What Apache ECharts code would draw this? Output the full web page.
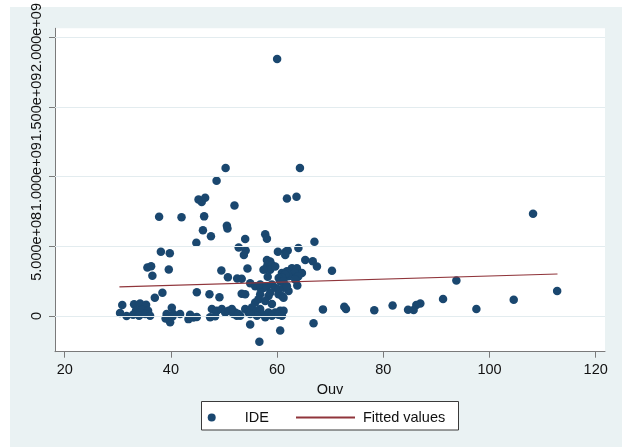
<!DOCTYPE html>
<html><head><meta charset="utf-8">
<script src="https://cdn.jsdelivr.net/npm/echarts@6/dist/echarts.min.js"></script>
<style>
html,body{margin:0;padding:0;background:#fff;}
#bg{position:absolute;left:10px;top:7px;width:612px;height:440px;background:#eaf2f3;}
#chart{position:absolute;left:0;top:0;width:622px;height:447px;}
</style></head><body>
<div id="bg"></div><div id="chart"></div>
<script>
// Ouv (x) and IDE (y), paired by index
const ouv = [60.0,50.3,64.3,48.6,45.2,45.8,46.45,61.85,63.65,51.97,
108.2,37.78,42.0,46.26,50.54,50.65,46.03,47.54,44.79,57.76,
58.08,53.99,67.03,52.76,54.08,53.74,64.01,60.15,61.62,62.0,
61.53,38.11,39.79,35.57,36.27,36.51,39.6,65.3,66.71,67.5,
58.08,58.7,58.19,59.02,57.76,58.7,59.64,49.5,54.42,57.44,
62.79,63.73,64.67,60.9,61.85,63.28,62.15,61.53,60.9,63.73,
64.0,70.33,50.73,52.48,53.33,58.23,60.3,60.58,63.41,61.21,
63.8,93.76,54.93,55.87,56.81,57.44,56.81,58.08,59.02,59.64,
60.26,61.21,62.15,61.85,112.74,38.4,36.97,44.88,47.26,49.14,
53.33,53.99,56.81,58.38,58.7,60.26,60.9,61.21,91.25,104.56,
55.87,56.49,57.76,59.02,55.25,53.99,54.61,56.19,56.81,57.13,
58.38,59.64,60.58,61.21,53.05,52.11,57.76,59.02,60.26,60.9,
81.75,86.97,86.22,84.66,85.71,78.3,97.53,72.65,72.97,68.63,
66.86,60.58,54.93,56.66,30.84,30.42,31.65,33.06,34.19,35.33,
33.44,34.57,35.7,32.87,34.0,35.14,36.08,40.17,39.19,40.47,
39.85,39.0,40.29,41.73,43.62,44.24,44.88,43.3,47.71,48.65,
47.39,48.33,49.59,50.22,50.84,51.78,52.42,51.48,52.72,56.19,
54.93];
const ide = [18.45e8,10.63e8,10.63e8,9.71e8,8.37e8,8.18e8,8.49e8,8.44e8,8.56e8,7.93e8,
7.33e8,7.13e8,7.08e8,7.15e8,6.48e8,6.28e8,6.15e8,5.73e8,5.26e8,5.86e8,
5.55e8,5.53e8,5.32e8,4.91e8,4.70e8,4.38e8,4.87e8,4.61e8,4.61e8,4.70e8,
4.38e8,4.61e8,4.50e8,3.48e8,3.57e8,2.88e8,3.33e8,4.02e8,3.93e8,3.55e8,
4.02e8,3.90e8,3.67e8,3.66e8,3.37e8,3.32e8,3.55e8,3.27e8,3.41e8,3.32e8,
3.43e8,3.43e8,3.08e8,3.08e8,3.20e8,3.08e8,2.85e8,2.97e8,2.77e8,2.77e8,
2.85e8,3.25e8,2.77e8,2.68e8,2.67e8,2.81e8,2.73e8,2.49e8,2.61e8,2.49e8,
2.18e8,2.54e8,2.35e8,2.14e8,2.02e8,2.00e8,2.26e8,2.14e8,2.26e8,2.02e8,
1.91e8,2.02e8,1.79e8,2.14e8,1.79e8,1.66e8,1.31e8,1.70e8,1.55e8,1.34e8,
1.60e8,1.55e8,1.55e8,1.43e8,1.67e8,1.55e8,1.43e8,1.31e8,1.22e8,1.17e8,
0.96e8,1.20e8,1.08e8,0.85e8,0.61e8,0.49e8,0.25e8,0.37e8,0.49e8,0.14e8,
0.25e8,0.25e8,0.37e8,0.37e8,0.02e8,0.25e8,-0.10e8,0.02e8,0.09e8,0.02e8,
0.75e8,0.89e8,0.78e8,0.44e8,0.42e8,0.40e8,0.49e8,0.66e8,0.49e8,0.47e8,
-0.52e8,-1.04e8,-0.61e8,-1.86e8,0.78e8,0.21e8,0,0.83e8,0.90e8,0.80e8,
0.41e8,0.44e8,0.37e8,0.09e8,0.02e8,0.13e8,0.02e8,0.59e8,0.13e8,0.13e8,
-0.45e8,-0.19e8,-0.05e8,0.13e8,0.09e8,-0.12e8,-0.08e8,-0.23e8,0.49e8,0.37e8,
-0.10e8,-0.03e8,0.49e8,0.25e8,0.37e8,0.14e8,0.02e8,0.49e8,0.14e8,0.02e8,
0.14e8];
// Fitted values line (end points)
const fitOuv = [30.3, 112.8];
const fitIde = [2.09e8, 3.01e8];
// Axis ticks
const xTicks = [20, 40, 60, 80, 100, 120];
const yTicks = [0, 5e8, 1e9, 1.5e9, 2e9];
const yTickLabels = ['0', '5.000e+08', '1.000e+09', '1.500e+09', '2.000e+09'];
const seriesNames = ['IDE', 'Fitted values'];

const FONT = "'Liberation Sans', Arial, sans-serif";
const chart = echarts.init(document.getElementById('chart'), null, {renderer: 'canvas'});
const scatterData = ouv.map((x, i) => [x, ide[i]]);
const fitData = fitOuv.map((x, i) => [x, fitIde[i]]);

chart.setOption({
  backgroundColor: 'transparent',
  animation: false,
  grid: {left: 55, right: 17, top: 22.7, bottom: 95.3, show: true, backgroundColor: '#ffffff', borderWidth: 0},
  xAxis: {
    type: 'value', min: 18.17, max: 121.75,
    name: 'Ouv', nameLocation: 'middle', nameGap: 21,
    nameTextStyle: {fontFamily: FONT, fontSize: 14.5, color: '#111'},
    axisLine: {show: true, onZero: false, lineStyle: {color: '#7a7a7a', width: 1}},
    axisTick: {show: true, length: 6, customValues: xTicks, lineStyle: {color: '#7a7a7a'}},
    axisLabel: {customValues: xTicks, margin: 11, fontFamily: FONT, fontSize: 14.5, color: '#111',
      showMinLabel: true, showMaxLabel: true, hideOverlap: false},
    splitLine: {show: false}
  },
  yAxis: {
    type: 'value', min: -2.57e8, max: 2.066e9,
    axisLine: {show: true, onZero: false, lineStyle: {color: '#7a7a7a', width: 1}},
    axisTick: {show: true, length: 6, customValues: yTicks, lineStyle: {color: '#7a7a7a'}},
    axisLabel: {customValues: yTicks, rotate: 90, margin: 11, fontFamily: FONT, fontSize: 14.5, color: '#111',
      showMinLabel: true, showMaxLabel: true, hideOverlap: false,
      formatter: v => { const i = yTicks.indexOf(v); return i >= 0 ? yTickLabels[i] : ''; }},
    splitLine: {show: false}
  },
  graphic: [{
    type: 'rect', z: 0, silent: true,
    shape: {x: 201.5, y: 401.5, width: 257, height: 28.5},
    style: {fill: '#ffffff', stroke: '#3a3a3a', lineWidth: 1}
  }],
  legend: [{
    data: [seriesNames[0]], left: 207.7, top: 410, padding: 0, z: 10,
    itemWidth: 8, itemHeight: 8, symbolKeepAspect: true,
    textStyle: {fontFamily: FONT, fontSize: 14.5, color: '#111', padding: [0, 0, 0, 24]}
  }, {
    data: [seriesNames[1]], left: 295, top: 410, padding: 0, z: 10,
    itemWidth: 59, itemHeight: 8,
    itemStyle: {opacity: 0, borderWidth: 0},
    textStyle: {fontFamily: FONT, fontSize: 14.5, color: '#111', padding: [0, 0, 0, 3]}
  }],
  series: [
    {
      name: 'grid', type: 'line', data: [], z: 1, silent: true,
      markLine: {silent: true, symbol: 'none', animation: false, label: {show: false},
        lineStyle: {color: '#e3ecef', width: 1, type: 'solid'},
        data: yTicks.map(v => ({yAxis: v}))}
    },
    {
      name: seriesNames[0], type: 'scatter', data: scatterData, z: 3,
      symbol: 'circle', symbolSize: 8.5,
      itemStyle: {color: '#1a476f', opacity: 1}
    },
    {
      name: seriesNames[1], type: 'line', data: fitData, z: 4,
      showSymbol: false, symbol: 'none',
      lineStyle: {color: '#90353b', width: 1.2},
      itemStyle: {color: '#90353b'}
    }
  ]
});
</script>
</body></html>
